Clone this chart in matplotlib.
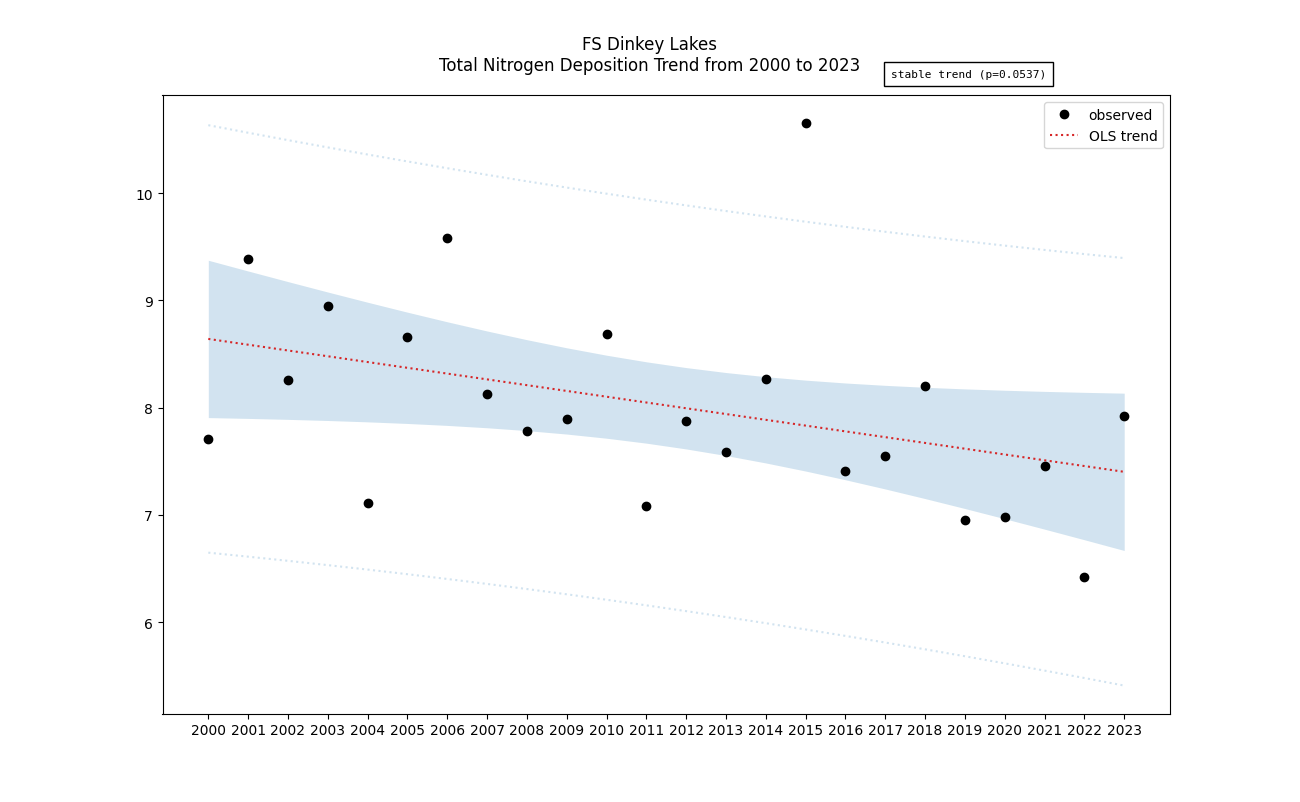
import numpy as np
import matplotlib
matplotlib.use("Agg")
import matplotlib.pyplot as plt

site = "FS Dinkey Lakes"
years = np.arange(2000, 2024)
# total N deposition
deposition = [7.71, 9.39, 8.26, 8.95, 7.11, 8.66, 9.58, 8.13, 7.78, 7.89,
              8.69, 7.08, 7.88, 7.59, 8.27, 10.65, 7.41, 7.55, 8.20, 6.95,
              6.98, 7.46, 6.42, 7.92]
p_value_label = "stable trend (p=0.0537)"

# OLS fit with confidence and prediction bands
x = years.astype(float)
y = np.array(deposition)
n = len(x)
slope, intercept = np.polyfit(x, y, 1)
fitted = intercept + slope * x
resid = y - fitted
s = np.sqrt(np.sum(resid ** 2) / (n - 2))
sxx = np.sum((x - x.mean()) ** 2)
t_crit = 2.0739  # t(0.975, df=22)
se_mean = s * np.sqrt(1 / n + (x - x.mean()) ** 2 / sxx)
se_pred = s * np.sqrt(1 + 1 / n + (x - x.mean()) ** 2 / sxx)

fig, ax = plt.subplots(figsize=(13, 8.03), dpi=100)

ax.fill_between(years, fitted - t_crit * se_mean, fitted + t_crit * se_mean,
                color="tab:blue", alpha=0.2, linewidth=0)
ax.plot(years, fitted + t_crit * se_pred, color="tab:blue", alpha=0.2, linestyle=":")
ax.plot(years, fitted - t_crit * se_pred, color="tab:blue", alpha=0.2, linestyle=":")
ax.plot(years, deposition, "o", color="black", label="observed")
ax.plot(years, fitted, ":", color="tab:red", label="OLS trend")

ax.set_xticks(years)
ax.legend(loc="upper right")

ax.text(0.80, 1.034, p_value_label, transform=ax.transAxes, ha="center", va="center",
        family="monospace", fontsize=8,
        bbox=dict(facecolor="white", edgecolor="black", pad=5))

fig.suptitle(f"{site}\nTotal Nitrogen Deposition Trend from {years[0]} to {years[-1]}",
             y=0.955, fontsize=12)

fig.savefig("out.png", dpi=100)
